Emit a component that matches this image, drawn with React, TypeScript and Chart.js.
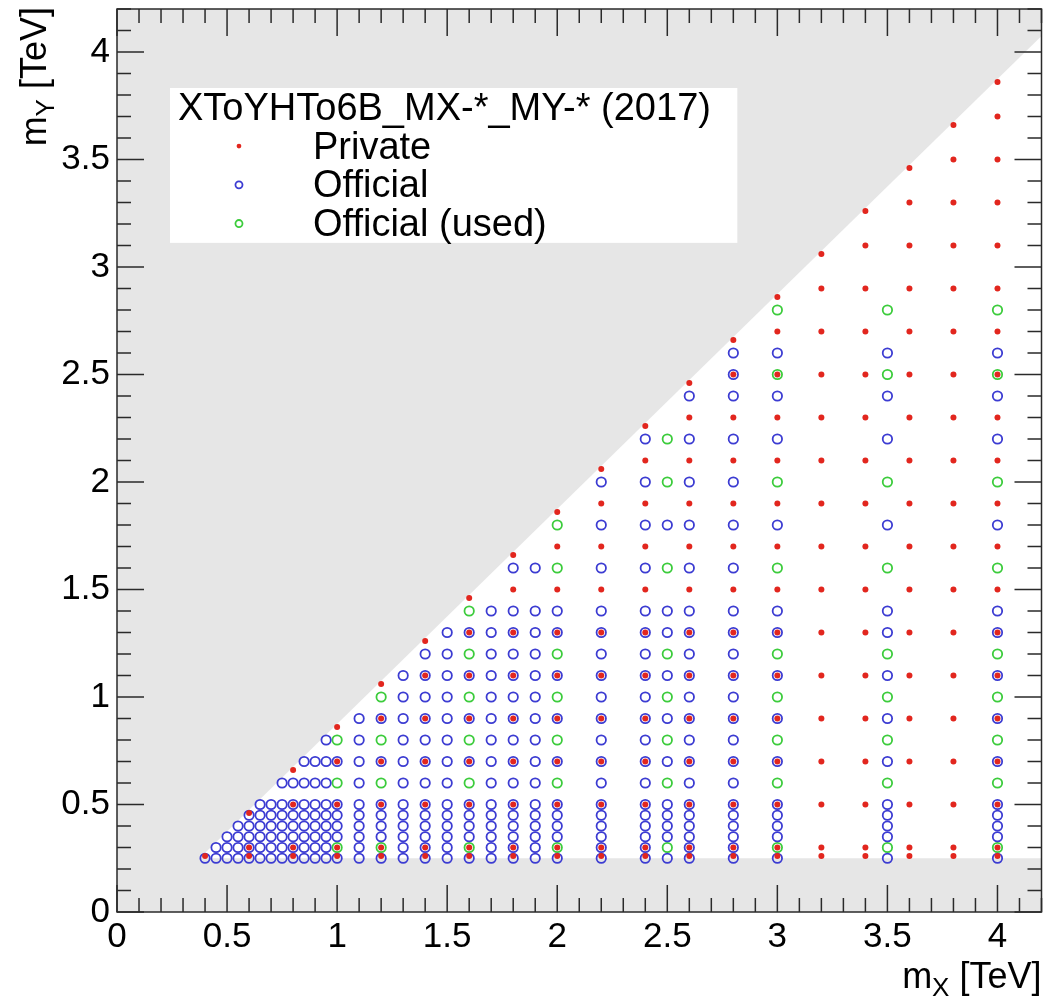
import React, { useEffect, useRef } from "react";
import { Chart, registerables } from "chart.js";

Chart.register(...registerables);

// ---- data (mX in TeV -> list of mY in TeV) ----
const privatePoints: [number, number[]][] = [
  [0.4, [0.26]],
  [0.6, [0.26, 0.3, 0.46]],
  [0.8, [0.26, 0.3, 0.5, 0.66]],
  [1.0, [0.26, 0.3, 0.5, 0.7, 0.86]],
  [1.2, [0.26, 0.3, 0.5, 0.7, 0.9, 1.06]],
  [1.4, [0.26, 0.3, 0.5, 0.7, 0.9, 1.1, 1.26]],
  [1.6, [0.26, 0.3, 0.5, 0.7, 0.9, 1.1, 1.3, 1.46]],
  [1.8, [0.26, 0.3, 0.5, 0.7, 0.9, 1.1, 1.3, 1.5, 1.66]],
  [2.0, [0.26, 0.3, 0.5, 0.7, 0.9, 1.1, 1.3, 1.5, 1.7, 1.86]],
  [2.2, [0.26, 0.3, 0.5, 0.7, 0.9, 1.1, 1.3, 1.5, 1.7, 1.9, 2.06]],
  [2.4, [0.26, 0.3, 0.5, 0.7, 0.9, 1.1, 1.3, 1.5, 1.7, 1.9, 2.1, 2.26]],
  [2.6, [0.26, 0.3, 0.5, 0.7, 0.9, 1.1, 1.3, 1.5, 1.7, 1.9, 2.1, 2.3, 2.46]],
  [2.8, [0.26, 0.3, 0.5, 0.7, 0.9, 1.1, 1.3, 1.5, 1.7, 1.9, 2.1, 2.3, 2.5, 2.66]],
  [3.0, [0.26, 0.3, 0.5, 0.7, 0.9, 1.1, 1.3, 1.5, 1.7, 1.9, 2.1, 2.3, 2.5, 2.7, 2.86]],
  [3.2, [0.26, 0.3, 0.5, 0.7, 0.9, 1.1, 1.3, 1.5, 1.7, 1.9, 2.1, 2.3, 2.5, 2.7, 2.9, 3.06]],
  [3.4, [0.26, 0.3, 0.5, 0.7, 0.9, 1.1, 1.3, 1.5, 1.7, 1.9, 2.1, 2.3, 2.5, 2.7, 2.9, 3.1, 3.26]],
  [3.6, [0.26, 0.3, 0.5, 0.7, 0.9, 1.1, 1.3, 1.5, 1.7, 1.9, 2.1, 2.3, 2.5, 2.7, 2.9, 3.1, 3.3, 3.46]],
  [3.8, [0.26, 0.3, 0.5, 0.7, 0.9, 1.1, 1.3, 1.5, 1.7, 1.9, 2.1, 2.3, 2.5, 2.7, 2.9, 3.1, 3.3, 3.5, 3.66]],
  [4.0, [0.26, 0.3, 0.5, 0.7, 0.9, 1.1, 1.3, 1.5, 1.7, 1.9, 2.1, 2.3, 2.5, 2.7, 2.9, 3.1, 3.3, 3.5, 3.7, 3.86]],
];

const officialPoints: [number, number[]][] = [
  [0.4, [0.25]],
  [0.45, [0.25, 0.3]],
  [0.5, [0.25, 0.3, 0.35]],
  [0.55, [0.25, 0.3, 0.35, 0.4]],
  [0.6, [0.25, 0.3, 0.35, 0.4, 0.45]],
  [0.65, [0.25, 0.3, 0.35, 0.4, 0.45, 0.5]],
  [0.7, [0.25, 0.3, 0.35, 0.4, 0.45, 0.5]],
  [0.75, [0.25, 0.3, 0.35, 0.4, 0.45, 0.5, 0.6]],
  [0.8, [0.25, 0.3, 0.35, 0.4, 0.45, 0.5, 0.6]],
  [0.85, [0.25, 0.3, 0.35, 0.4, 0.45, 0.5, 0.6, 0.7]],
  [0.9, [0.25, 0.3, 0.35, 0.4, 0.45, 0.5, 0.6, 0.7]],
  [0.95, [0.25, 0.3, 0.35, 0.4, 0.45, 0.5, 0.6, 0.7, 0.8]],
  [1.0, [0.25, 0.35, 0.4, 0.45, 0.5, 0.7]],
  [1.1, [0.25, 0.3, 0.35, 0.4, 0.45, 0.5, 0.6, 0.7, 0.8, 0.9]],
  [1.2, [0.25, 0.35, 0.4, 0.45, 0.5, 0.7, 0.9]],
  [1.3, [0.25, 0.3, 0.35, 0.4, 0.45, 0.5, 0.6, 0.7, 0.8, 0.9, 1.0, 1.1]],
  [1.4, [0.25, 0.3, 0.35, 0.4, 0.45, 0.5, 0.6, 0.7, 0.8, 0.9, 1.0, 1.1, 1.2]],
  [1.5, [0.25, 0.3, 0.35, 0.4, 0.45, 0.5, 0.6, 0.7, 0.8, 0.9, 1.0, 1.1, 1.2, 1.3]],
  [1.6, [0.25, 0.35, 0.4, 0.45, 0.5, 0.7, 0.9, 1.1, 1.3]],
  [1.7, [0.25, 0.3, 0.35, 0.4, 0.45, 0.5, 0.6, 0.7, 0.8, 0.9, 1.0, 1.1, 1.2, 1.3, 1.4]],
  [1.8, [0.25, 0.3, 0.35, 0.4, 0.45, 0.5, 0.6, 0.7, 0.8, 0.9, 1.0, 1.1, 1.2, 1.3, 1.4, 1.6]],
  [1.9, [0.25, 0.3, 0.35, 0.4, 0.45, 0.5, 0.6, 0.7, 0.8, 0.9, 1.0, 1.1, 1.2, 1.3, 1.4, 1.6]],
  [2.0, [0.25, 0.35, 0.4, 0.45, 0.5, 0.7, 0.9, 1.1, 1.3, 1.4]],
  [2.2, [0.25, 0.3, 0.35, 0.4, 0.45, 0.5, 0.6, 0.7, 0.8, 0.9, 1.0, 1.1, 1.2, 1.3, 1.4, 1.6, 1.8, 2.0]],
  [2.4, [0.25, 0.3, 0.35, 0.4, 0.45, 0.5, 0.6, 0.7, 0.8, 0.9, 1.0, 1.1, 1.2, 1.3, 1.4, 1.6, 1.8, 2.0, 2.2]],
  [2.5, [0.25, 0.35, 0.4, 0.45, 0.5, 0.7, 0.9, 1.1, 1.3, 1.4, 1.8]],
  [2.6, [0.25, 0.3, 0.35, 0.4, 0.45, 0.5, 0.6, 0.7, 0.8, 0.9, 1.0, 1.1, 1.2, 1.3, 1.4, 1.6, 1.8, 2.0, 2.2, 2.4]],
  [2.8, [0.25, 0.3, 0.35, 0.4, 0.45, 0.5, 0.6, 0.7, 0.8, 0.9, 1.0, 1.1, 1.2, 1.3, 1.4, 1.6, 1.8, 2.0, 2.2, 2.4, 2.5, 2.6]],
  [3.0, [0.25, 0.35, 0.4, 0.45, 0.5, 0.7, 0.9, 1.1, 1.3, 1.4, 1.8, 2.2, 2.4, 2.6]],
  [3.5, [0.25, 0.35, 0.4, 0.45, 0.5, 0.7, 0.9, 1.1, 1.3, 1.4, 1.8, 2.2, 2.4, 2.6]],
  [4.0, [0.25, 0.35, 0.4, 0.45, 0.5, 0.7, 0.9, 1.1, 1.3, 1.4, 1.8, 2.2, 2.4, 2.6]],
];

const usedPoints: [number, number[]][] = [
  [1.0, [0.3, 0.6, 0.8]],
  [1.2, [0.3, 0.6, 0.8, 1.0]],
  [1.6, [0.3, 0.6, 0.8, 1.0, 1.2, 1.4]],
  [2.0, [0.3, 0.6, 0.8, 1.0, 1.2, 1.6, 1.8]],
  [2.5, [0.3, 0.6, 0.8, 1.0, 1.2, 1.6, 2.0, 2.2]],
  [3.0, [0.3, 0.6, 0.8, 1.0, 1.2, 1.6, 2.0, 2.5, 2.8]],
  [3.5, [0.3, 0.6, 0.8, 1.0, 1.2, 1.6, 2.0, 2.5, 2.8]],
  [4.0, [0.3, 0.6, 0.8, 1.0, 1.2, 1.6, 2.0, 2.5, 2.8]],
];

// allowed (white) kinematic region, in data coordinates
const allowedRegion: [number, number][] = [
  [0.375, 0.25],
  [4.2, 0.25],
  [4.2, 4.075],
];

const seriesLabels = ["Private", "Official", "Official (used)"];
const legendHeader = "XToYHTo6B_MX-*_MY-* (2017)";
const xRange = [0, 4.2];
const yRange = [0, 4.2];
const majorStep = 0.5;
const minorStep = 0.1;

const FONT = "'Liberation Sans', Arial, Helvetica, sans-serif";
const RED = "#e2261e";
const BLUE = "#3c3cd2";
const GREEN = "#3ccc3c";

function flatten(cols: [number, number[]][]) {
  const out: { x: number; y: number }[] = [];
  cols.forEach(([mx, ys]) => ys.forEach((my) => out.push({ x: mx, y: my })));
  return out;
}

const regionPlugin = {
  id: "region",
  beforeDatasetsDraw(chart: any) {
    const { ctx, chartArea: a, scales } = chart;
    ctx.save();
    ctx.fillStyle = "#e6e6e6";
    ctx.fillRect(a.left, a.top, a.right - a.left, a.bottom - a.top);
    ctx.beginPath();
    allowedRegion.forEach(([vx, vy], i) => {
      const px = scales.x.getPixelForValue(vx);
      const py = scales.y.getPixelForValue(vy);
      if (i === 0) ctx.moveTo(px, py);
      else ctx.lineTo(px, py);
    });
    ctx.closePath();
    ctx.fillStyle = "#ffffff";
    ctx.fill();
    ctx.restore();
  },
};

const framePlugin = {
  id: "frame",
  afterDatasetsDraw(chart: any) {
    const { ctx, chartArea: a, scales } = chart;
    const MAJ = 27;
    const MIN = 14;
    ctx.save();
    ctx.strokeStyle = "#2a2a2a";
    ctx.lineWidth = 1.5;
    ctx.strokeRect(a.left, a.top, a.right - a.left, a.bottom - a.top);
    ctx.beginPath();
    const nx = Math.round((xRange[1] - xRange[0]) / minorStep);
    for (let i = 0; i <= nx; i++) {
      const v = xRange[0] + i * minorStep;
      const isMaj = Math.abs(v / majorStep - Math.round(v / majorStep)) < 1e-6;
      const L = isMaj ? MAJ : MIN;
      const px = scales.x.getPixelForValue(v);
      ctx.moveTo(px, a.bottom);
      ctx.lineTo(px, a.bottom - L);
      ctx.moveTo(px, a.top);
      ctx.lineTo(px, a.top + L);
    }
    const ny = Math.round((yRange[1] - yRange[0]) / minorStep);
    for (let i = 0; i <= ny; i++) {
      const v = yRange[0] + i * minorStep;
      const isMaj = Math.abs(v / majorStep - Math.round(v / majorStep)) < 1e-6;
      const L = isMaj ? MAJ : MIN;
      const py = scales.y.getPixelForValue(v);
      ctx.moveTo(a.left, py);
      ctx.lineTo(a.left + L, py);
      ctx.moveTo(a.right, py);
      ctx.lineTo(a.right - L, py);
    }
    ctx.stroke();
    ctx.restore();
  },
};

const legendPlugin = {
  id: "boxLegend",
  afterDraw(chart: any) {
    const { ctx, chartArea: a } = chart;
    const w = a.right - a.left;
    const h = a.bottom - a.top;
    const bx = a.left + 0.0573 * w;
    const by = a.top + 0.0875 * h;
    const bw = (0.671 - 0.0573) * w;
    const bh = (0.259 - 0.0875) * h;
    ctx.save();
    ctx.fillStyle = "#ffffff";
    ctx.fillRect(bx, by, bw, bh);
    const rowH = bh / 4;
    ctx.font = `38px ${FONT}`;
    ctx.textBaseline = "middle";
    ctx.textAlign = "left";
    ctx.fillStyle = "#000";
    ctx.fillText(legendHeader, bx + 8, by + rowH * 0.5 + 2);
    chart.data.datasets.forEach((ds: any, i: number) => {
      const cy = by + rowH * (i + 1.5);
      const mx = bx + 69;
      ctx.beginPath();
      if (ds.pointBorderWidth > 0) {
        ctx.arc(mx, cy, ds.pointRadius * 0.75, 0, Math.PI * 2);
        ctx.strokeStyle = ds.pointBorderColor;
        ctx.lineWidth = ds.pointBorderWidth;
        ctx.stroke();
      } else {
        ctx.arc(mx, cy, ds.pointRadius * 0.8, 0, Math.PI * 2);
        ctx.fillStyle = ds.pointBackgroundColor;
        ctx.fill();
      }
      ctx.fillStyle = "#000";
      ctx.fillText(ds.label, bx + 143, cy + 2);
    });
    ctx.restore();
  },
};

function drawMassTitle(ctx: any, sub: string, xRight: number, baseline: number) {
  const big = `36px ${FONT}`;
  const small = `26px ${FONT}`;
  ctx.font = big;
  const wm = ctx.measureText("m").width;
  const wt = ctx.measureText(" [TeV]").width;
  ctx.font = small;
  const ws = ctx.measureText(sub).width;
  const total = wm + ws + wt;
  const x0 = xRight - total;
  ctx.textAlign = "left";
  ctx.textBaseline = "alphabetic";
  ctx.fillStyle = "#000";
  ctx.font = big;
  ctx.fillText("m", x0, baseline);
  ctx.font = small;
  ctx.fillText(sub, x0 + wm, baseline + 8);
  ctx.font = big;
  ctx.fillText(" [TeV]", x0 + wm + ws, baseline);
}

const titlePlugin = {
  id: "axisTitles",
  afterDraw(chart: any) {
    const { ctx, chartArea: a } = chart;
    ctx.save();
    drawMassTitle(ctx, "X", a.right, 988);
    ctx.restore();
    ctx.save();
    ctx.translate(46, a.top - 2);
    ctx.rotate(-Math.PI / 2);
    drawMassTitle(ctx, "Y", 0, 0);
    ctx.restore();
  },
};

function keepMajor(scale: any) {
  scale.ticks = scale.ticks.filter(
    (t: any) => Math.abs(t.value / majorStep - Math.round(t.value / majorStep)) < 1e-6
  );
}

export default function App() {
  const ref = useRef<HTMLCanvasElement | null>(null);
  useEffect(() => {
    if (!ref.current) return;
    const tickFont = { family: FONT, size: 35 };
    const chart = new Chart(ref.current, {
      type: "scatter",
      data: {
        datasets: [
          {
            label: seriesLabels[0],
            data: flatten(privatePoints),
            pointRadius: 3,
            pointBorderWidth: 0,
            pointBackgroundColor: RED,
            pointBorderColor: RED,
            backgroundColor: RED,
            borderColor: RED,
          },
          {
            label: seriesLabels[1],
            data: flatten(officialPoints),
            pointRadius: 4.7,
            pointBorderWidth: 1.8,
            pointBackgroundColor: "rgba(0,0,0,0)",
            pointBorderColor: BLUE,
            backgroundColor: "rgba(0,0,0,0)",
            borderColor: BLUE,
          },
          {
            label: seriesLabels[2],
            data: flatten(usedPoints),
            pointRadius: 4.7,
            pointBorderWidth: 1.8,
            pointBackgroundColor: "rgba(0,0,0,0)",
            pointBorderColor: GREEN,
            backgroundColor: "rgba(0,0,0,0)",
            borderColor: GREEN,
          },
        ],
      } as any,
      options: {
        animation: false,
        responsive: false,
        devicePixelRatio: 1,
        events: [],
        layout: { padding: { left: 0, top: 9, right: 6, bottom: 0 } },
        plugins: { legend: { display: false }, tooltip: { enabled: false }, title: { display: false } },
        scales: {
          x: {
            type: "linear",
            min: xRange[0],
            max: xRange[1],
            grid: { display: false, drawTicks: false },
            border: { display: false },
            ticks: {
              stepSize: majorStep,
              includeBounds: false,
              autoSkip: false,
              maxRotation: 0,
              padding: 4,
              color: "#000",
              font: tickFont,
              callback: (v: any) => String(Number(v)),
            },
            afterBuildTicks: keepMajor,
            afterFit: (s: any) => {
              s.height = 86;
              s.paddingLeft = 0;
              s.paddingRight = 0;
            },
          },
          y: {
            type: "linear",
            min: yRange[0],
            max: yRange[1],
            grid: { display: false, drawTicks: false },
            border: { display: false },
            ticks: {
              stepSize: majorStep,
              includeBounds: false,
              autoSkip: false,
              padding: 7,
              color: "#000",
              font: tickFont,
              callback: (v: any) => String(Number(v)),
            },
            afterBuildTicks: keepMajor,
            afterFit: (s: any) => {
              s.width = 117;
              s.paddingTop = 0;
              s.paddingBottom = 0;
            },
          },
        },
      } as any,
      plugins: [regionPlugin, framePlugin, legendPlugin, titlePlugin],
    });
    return () => chart.destroy();
  }, []);

  return (
    <div style={{ position: "absolute", left: 0, top: 0, width: 1048, height: 998, background: "#fff" }}>
      <canvas ref={ref} width={1048} height={998} style={{ display: "block" }} />
    </div>
  );
}
